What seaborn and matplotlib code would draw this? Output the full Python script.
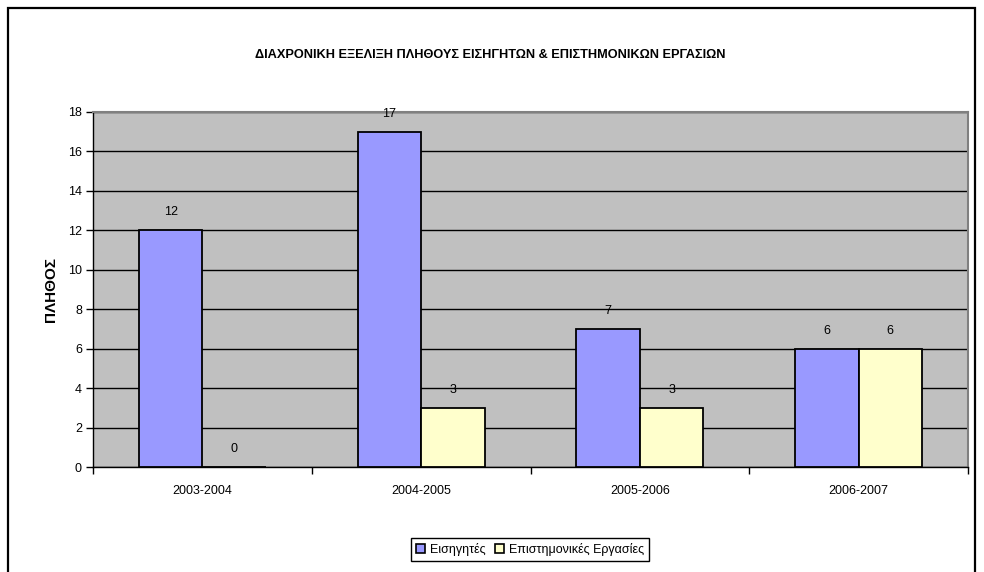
import matplotlib
matplotlib.use("Agg")
import matplotlib.pyplot as plt
import matplotlib.patches as mpatches
import numpy as np
import pandas as pd
import seaborn as sns

# ── Data ─────────────────────────────────────────────────────
years = ["2003-2004", "2004-2005", "2005-2006", "2006-2007"]
speakers = [12, 17, 7, 6]          # Εισηγητές
papers = [0, 3, 3, 6]              # Επιστημονικές Εργασίες
series_names = ["Εισηγητές", "Επιστημονικές Εργασίες"]
colors = ["#9999FF", "#FFFFCC"]

df = pd.DataFrame({
    "year": years * 2,
    "value": speakers + papers,
    "series": [series_names[0]] * len(years) + [series_names[1]] * len(years),
})

sns.set_style("white")
plt.rcParams["font.family"] = ["Liberation Sans", "DejaVu Sans"]
for key in ["text.color", "axes.labelcolor", "xtick.color", "ytick.color"]:
    plt.rcParams[key] = "black"

fig = plt.figure(figsize=(9.84, 5.72), dpi=100)
ax = fig.add_axes([93 / 984, 1 - 467 / 572, 875 / 984, 355 / 572])

sns.barplot(data=df, x="year", y="value", hue="series", palette=colors,
            saturation=1, width=0.58, edgecolor="black", linewidth=1.3,
            ax=ax, legend=False, zorder=3)

# value labels
for cont in ax.containers:
    for bar in cont:
        h = bar.get_height()
        ax.annotate(f"{int(h)}", (bar.get_x() + bar.get_width() / 2, h),
                    xytext=(0, 13), textcoords="offset points",
                    ha="center", va="center", fontsize=9)

ax.set_facecolor("#C0C0C0")
ax.set_ylim(0, 18)
ax.set_xlim(-0.5, 3.5)
ax.set_yticks(np.arange(0, 19, 2))
ax.yaxis.grid(True, color="black", linewidth=1, zorder=0)
ax.set_axisbelow(True)

ax.set_xlabel("")
ax.set_ylabel("ΠΛΗΘΟΣ", fontsize=11, fontweight="bold", labelpad=7)
ax.tick_params(axis="y", direction="out", length=5, width=1, color="black",
               labelsize=9, left=True, pad=3)
ax.tick_params(axis="x", which="major", length=0, labelsize=9, pad=13)
ax.set_xticks(np.arange(-0.5, 4, 1), minor=True)
ax.tick_params(axis="x", which="minor", direction="out", length=5, width=1,
               color="black", bottom=True)

for side in ["left", "bottom"]:
    ax.spines[side].set_color("black")
    ax.spines[side].set_linewidth(1)
for side in ["top", "right"]:
    ax.spines[side].set_color("#808080")
    ax.spines[side].set_linewidth(1.5)

fig.text(490 / 984, 1 - 55 / 572,
         "ΔΙΑΧΡΟΝΙΚΗ ΕΞΕΛΙΞΗ ΠΛΗΘΟΥΣ ΕΙΣΗΓΗΤΩΝ & ΕΠΙΣΤΗΜΟΝΙΚΩΝ ΕΡΓΑΣΙΩΝ",
         ha="center", va="center", fontsize=9.2, fontweight="bold")

handles = [mpatches.Patch(facecolor=c, edgecolor="black", linewidth=1.2, label=n)
           for c, n in zip(colors, series_names)]
fig.legend(handles=handles, loc="center", bbox_to_anchor=(530 / 984, 1 - 549 / 572),
           ncol=2, fontsize=9, frameon=True, fancybox=False, edgecolor="black",
           handlelength=0.7, handleheight=0.7, handletextpad=0.4,
           columnspacing=0.8, borderpad=0.4, framealpha=1)

# outer chart frame (bottom edge is cut off in the original)
frame = mpatches.Rectangle((8 / 984, -0.05), (975 - 8) / 984, 1.05 - 8 / 572,
                           transform=fig.transFigure, fill=False,
                           edgecolor="black", linewidth=1.6, clip_on=False)
fig.patches.append(frame)

fig.savefig("out.png", dpi=100)
plt.close(fig)
